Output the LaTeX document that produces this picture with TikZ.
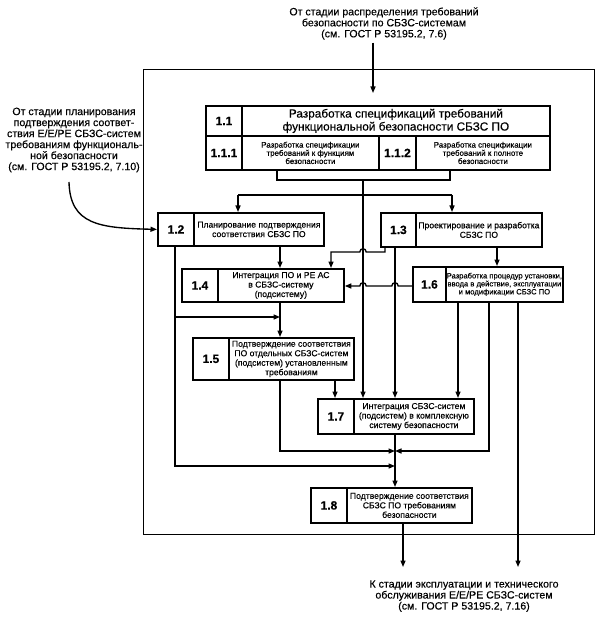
\documentclass[tikz,border=0pt]{standalone}
\usepackage{fontspec}
\setmainfont{Liberation Sans}[FakeBold=0.35]
\usetikzlibrary{arrows.meta}
\newcommand\mycell[7]{\node[#6, minimum width={#4pt-#2pt}, minimum height={#5pt-#3pt}] (#1) at (#2,#3) {#7};}
\newcommand\hopat[2]{-- (#1+3.2,#2) .. controls (#1+3.2,#2-4.3) and (#1-3.2,#2-4.3) .. (#1-3.2,#2)}
\begin{document}
\begin{tikzpicture}[x=1pt,y=-1pt,
  cell/.style={draw, line width=1.8pt, inner sep=0pt, anchor=north west, align=center},
  numc/.style={cell, font=\fontsize{12}{13}\selectfont\bfseries},
  txtc/.style={cell, font=\fontsize{8.6}{9.5}\selectfont},
  txtsm/.style={cell, font=\fontsize{7.9}{8.2}\selectfont},
  txtsix/.style={cell, font=\fontsize{7.6}{8}\selectfont},
  txtbig/.style={cell, font=\fontsize{11.8}{13}\selectfont},
  ext/.style={align=center, inner sep=0pt, font=\fontsize{10.6}{11}\selectfont},
  con/.style={line width=1.35pt},
  arr/.style={con, -{Triangle[length=6.5pt,width=5pt]}},
  framebox/.style={draw, line width=0.9pt, inner sep=0pt, anchor=north west}
]
\useasboundingbox (0,0) rectangle (605,617);
% frame
\node[framebox, minimum width=451pt, minimum height=465pt] (frame) at (143,69) {};
% external texts
\node[ext] (toptext) at (384,23.5) {От стадии распределения требований\\безопасности по СБЗС-системам\\(см. ГОСТ Р 53195.2, 7.6)};
\node[ext] (lefttext) at (74,140) {От стадии планирования\\подтверждения соответ-\\ствия Е/Е/РЕ СБЗС-систем\\требованиям функциональ-\\ной безопасности\\(см. ГОСТ Р 53195.2, 7.10)};
\node[ext] (bottext) at (464,596) {К стадии эксплуатации и технического\\обслуживания Е/Е/РЕ СБЗС-систем\\(см. ГОСТ Р 53195.2, 7.16)};
% box 1.1
\mycell{n11}{205}{105}{241}{135}{numc}{1.1}
\mycell{t11}{241}{105}{549}{135}{txtbig}{Разработка спецификаций требований\\функциональной безопасности СБЗС ПО}
\mycell{n111}{205}{135}{241}{169}{numc}{1.1.1}
\mycell{t111}{241}{135}{378}{169}{txtsm}{Разработка спецификации\\требований к функциям\\безопасности}
\mycell{n112}{378}{135}{415}{169}{numc}{1.1.2}
\mycell{t112}{415}{135}{549}{169}{txtsm}{Разработка спецификации\\требований к полноте\\безопасности}
% 1.2, 1.3
\mycell{n12}{157}{212}{193}{245}{numc}{1.2}
\mycell{t12}{193}{212}{323}{245}{txtc}{Планирование подтверждения\\соответствия СБЗС ПО}
\mycell{n13}{380}{212}{415}{246}{numc}{1.3}
\mycell{t13}{415}{212}{541}{246}{txtc}{Проектирование и разработка\\СБЗС ПО}
% 1.4, 1.6
\mycell{n14}{181}{268}{217}{301}{numc}{1.4}
\mycell{t14}{217}{268}{343}{301}{txtc}{Интеграция ПО и РЕ АС\\в СБЗС-систему\\(подсистему)}
\mycell{n16}{412}{266}{445}{301}{numc}{1.6}
\mycell{t16}{445}{266}{562}{301}{txtsix}{Разработка процедур установки,\\ввода в действие, эксплуатации\\и модификации СБЗС ПО}
% 1.5
\mycell{n15}{192}{337}{228}{379}{numc}{1.5}
\mycell{t15}{228}{337}{353}{379}{txtc}{Подтверждение соответствия\\ПО отдельных СБЗС-систем\\(подсистем) установленным\\требованиям}
% 1.7
\mycell{n17}{317}{398}{353}{433}{numc}{1.7}
\mycell{t17}{353}{398}{473}{433}{txtc}{Интеграция СБЗС-систем\\(подсистем) в комплексную\\систему безопасности}
% 1.8
\mycell{n18}{310}{487}{346}{522}{numc}{1.8}
\mycell{t18}{346}{487}{471}{522}{txtc}{Подтверждение соответствия\\СБЗС ПО требованиям\\безопасности}
% helper coordinates
\coordinate (toptip) at (373,93);
\coordinate (bl) at (277,180); \coordinate (br) at (450,180); \coordinate (bc) at (363,180);
\coordinate (h1) at (238,195); \coordinate (h2) at (452,195);
\coordinate (xa) at (175,0); \coordinate (xb) at (280,0);
\coordinate (c1) at (385,252); \coordinate (c2) at (331,252);
\coordinate (x395) at (395,0); \coordinate (x497) at (497,0);
\coordinate (d1) at (412,286);
\coordinate (x335) at (335,0); \coordinate (x458) at (458,0);
\coordinate (x489) at (489,0); \coordinate (x518) at (518,0); \coordinate (x403) at (403,0);
\coordinate (m1) at (395,451); \coordinate (m2) at (395,466);
\coordinate (out1) at (403,567); \coordinate (out2) at (518,567);
\coordinate (lc) at (69,182);
% connectors
\draw[arr] (toptext.south -| toptip) ++(0,3) -- (toptip);
\draw[con] (t111.south -| bl) -- (bl) -- (br) -- (t112.south -| br);
\draw[con] (h1) -- (h2);
\draw[arr] (h1) -- (t12.north -| h1);
\draw[arr] (h2) -- (t13.north -| h2);
\draw[arr] (bc) -- (t17.north -| bc);
\draw[arr] (n13.south -| c1) -- (c1) \hopat{363}{252} -- (c2) -- (t14.north -| c2);
\draw[arr] (n13.south -| x395) -- (t17.north -| x395);
\draw[arr] (t13.south -| x497) -- (t16.north -| x497);
\draw[arr] (d1) \hopat{395}{286} \hopat{363}{286} -- (t14.east |- d1);
\draw[arr] (t12.south -| xb) -- (t14.north -| xb);
\draw[arr] (n12.south -| xa) -- (xa |- m2) -- (m2);
\draw[arr] (175,317) -- (280,317);
\draw[arr] (t14.south -| xb) -- (t15.north -| xb);
\draw[arr] (t15.south -| x335) -- (n17.north -| x335);
\draw[arr] (t15.south -| xb) -- (xb |- m1) -- (m1);
\draw[arr] (t16.south -| x458) -- (t17.north -| x458);
\draw[arr] (t16.south -| x489) -- (x489 |- m1) -- (m1);
\draw[arr] (t16.south -| x518) -- (out2);
\draw[arr] (t17.south -| x395) -- (t18.north -| x395);
\draw[arr] (t18.south -| x403) -- (out1);
\draw[arr] (lc) .. controls (70,225) and (100,228) .. (n12.west);
\end{tikzpicture}
\end{document}
